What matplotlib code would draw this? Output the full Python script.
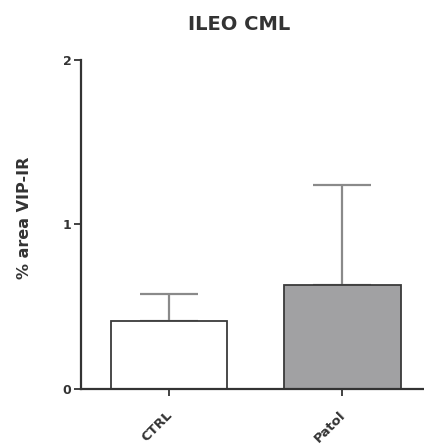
import numpy as np
import matplotlib.pyplot as plt
import matplotlib.transforms as mtransforms

groups = ['CTRL', 'Patol']
means = [0.41, 0.63]
sem_up = [0.17, 0.61]
fills = ['white', '#a1a1a3']

fig = plt.figure(figsize=(4.24, 4.48), dpi=100)
ax = fig.add_axes([0.191, 0.132, 0.809, 0.734])

x = np.arange(len(groups))
ax.bar(x, means, width=0.67, color=fills, edgecolor='#3a3a3a', linewidth=1.3, zorder=2)
ax.errorbar(x, means, yerr=[np.zeros(len(means)), sem_up], fmt='none',
            ecolor='#8a8a8a', elinewidth=1.6, capsize=21, capthick=1.6, zorder=1)

ax.set_xlim(-0.505, 1.47)
ax.set_ylim(0, 2)
ax.set_yticks([0, 1, 2])
ax.set_xticks(x)
ax.set_xticklabels(groups, rotation=45, ha='right', rotation_mode='anchor',
                   fontsize=9.5, fontweight='bold', color='#333333')
ax.tick_params(axis='y', labelsize=9, length=5, width=1.3, pad=2, colors='#333333')
ax.tick_params(axis='x', length=5, width=1.3, pad=9, colors='#333333')
for lbl in ax.get_yticklabels():
    lbl.set_fontweight('bold')
shift = mtransforms.ScaledTranslation(-3 / 100, 0, fig.dpi_scale_trans)
for lbl in ax.get_xticklabels():
    lbl.set_transform(lbl.get_transform() + shift)

for s in ['top', 'right']:
    ax.spines[s].set_visible(False)
for s in ['left', 'bottom']:
    ax.spines[s].set_linewidth(1.6)
    ax.spines[s].set_color('#333333')

ax.set_ylabel('% area VIP-IR', fontsize=11.5, fontweight='bold', color='#333333')
ax.yaxis.set_label_coords(-0.142, 0.52)
fig.text(0.564, 0.946, 'ILEO CML', ha='center', va='center', fontsize=14,
         fontweight='bold', color='#333333')

fig.savefig('out.png', dpi=100)
